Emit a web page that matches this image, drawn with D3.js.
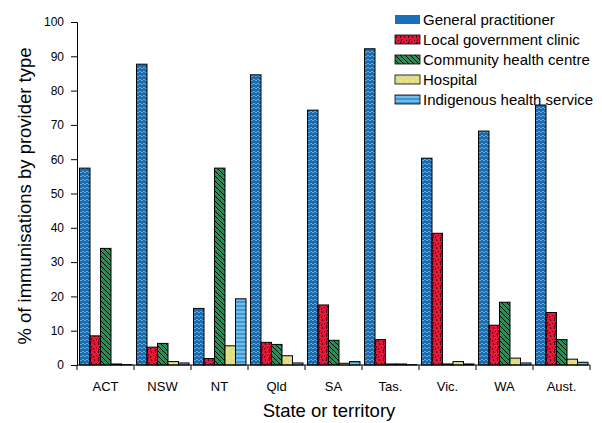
<!DOCTYPE html>
<html>
<head>
<meta charset="utf-8">
<script src="https://cdn.jsdelivr.net/npm/d3@7"></script>
<style>
  body { margin: 0; background: #fff; }
  text { font-family: "Liberation Sans", Arial, sans-serif; fill: #000; }
</style>
</head>
<body>
<div class="chart"></div>
<script>
// Immunisations by provider type, per state
var states = ["ACT", "NSW", "NT", "Qld", "SA", "Tas.", "Vic.", "WA", "Aust."];
var providers = ["General practitioner", "Local government clinic", "Community health centre", "Hospital", "Indigenous health service"];

var gp         = [57.4, 87.7, 16.5, 84.6, 74.3, 92.2, 60.3, 68.2, 75.8];
var localGov   = [8.5, 5.2, 1.9, 6.6, 17.5, 7.4, 38.4, 11.6, 15.3];
var community  = [34.0, 6.3, 57.4, 6.0, 7.2, 0.3, 0.3, 18.3, 7.4];
var hospital   = [0.3, 1.0, 5.6, 2.7, 0.5, 0.3, 1.0, 2.0, 1.7];
var indigenous = [0.1, 0.6, 19.3, 0.6, 1.0, 0.1, 0.3, 0.6, 0.8];

var yTicks = [0, 10, 20, 30, 40, 50, 60, 70, 80, 90, 100];

var series = [gp, localGov, community, hospital, indigenous];
var fills = ["url(#pGP)", "url(#pLG)", "url(#pCH)", "url(#pHO)", "url(#pIN)"];
var legendFills = ["#1a6fba", "url(#pLG)", "url(#pCH)", "url(#pHO)", "url(#pIN)"];

var svgWidth = 602;
var svgHeight = 423;
var margin = { top: 22, right: 12, bottom: 58, left: 77 };
var width = svgWidth - margin.left - margin.right;
var height = svgHeight - margin.top - margin.bottom;

var svg = d3.select(".chart")
  .append("svg")
  .attr("width", svgWidth)
  .attr("height", svgHeight);

// fill patterns
var defs = svg.append("defs");

var p = defs.append("pattern").attr("id", "pGP").attr("patternUnits", "userSpaceOnUse")
  .attr("width", 4).attr("height", 4);
p.append("rect").attr("width", 4).attr("height", 4).attr("fill", "#1a6aae");
p.append("path").attr("d", "M0,3 L2,1 L4,3").attr("fill", "none")
  .attr("stroke", "#7db8e6").attr("stroke-width", 0.8);

p = defs.append("pattern").attr("id", "pLG").attr("patternUnits", "userSpaceOnUse")
  .attr("width", 8).attr("height", 8);
p.append("rect").attr("width", 8).attr("height", 8).attr("fill", "#e8183c");
p.append("path").attr("d", "M1,1 L2,3 M5,0 L6,2 L5,3 M3,5 L4,6 M7,4 L6,6 M1,6 L0,8 M5,7 L7,8")
  .attr("fill", "none").attr("stroke", "#000").attr("stroke-width", 0.8);

p = defs.append("pattern").attr("id", "pCH").attr("patternUnits", "userSpaceOnUse")
  .attr("width", 5).attr("height", 5);
p.append("rect").attr("width", 5).attr("height", 5).attr("fill", "#2b8c55");
p.append("path").attr("d", "M0,0 L5,5 M-1,4 L1,6 M4,-1 L6,1")
  .attr("stroke", "#000").attr("stroke-width", 1);

p = defs.append("pattern").attr("id", "pHO").attr("patternUnits", "userSpaceOnUse")
  .attr("width", 6).attr("height", 6);
p.append("rect").attr("width", 6).attr("height", 6).attr("fill", "#f6e65c");
p.append("circle").attr("cx", 3).attr("cy", 3).attr("r", 2.2).attr("fill", "none")
  .attr("stroke", "#b9cce0").attr("stroke-width", 0.9);

p = defs.append("pattern").attr("id", "pIN").attr("patternUnits", "userSpaceOnUse")
  .attr("width", 4).attr("height", 4);
p.append("rect").attr("width", 4).attr("height", 4).attr("fill", "#3a9ad6");
p.append("line").attr("x1", 0).attr("x2", 4).attr("y1", 2).attr("y2", 2)
  .attr("stroke", "#d8ecf8").attr("stroke-width", 0.8);

var chartGroup = svg.append("g")
  .attr("transform", `translate(${margin.left}, ${margin.top})`);

var x0 = d3.scaleBand().domain(states).range([0, width]).padding(0);
var x1 = d3.scaleBand().domain(d3.range(providers.length))
  .range([2.5, x0.bandwidth() - 2]).padding(0);
var y = d3.scaleLinear().domain([0, 100]).range([height, 0]);

// bars
var groups = chartGroup.selectAll(".state")
  .data(states)
  .enter()
  .append("g")
  .attr("transform", d => `translate(${x0(d)}, 0)`);

groups.selectAll("rect")
  .data((d, i) => series.map((s, k) => ({ k: k, v: s[i] })))
  .enter()
  .append("rect")
  .attr("x", d => x1(d.k))
  .attr("y", d => y(d.v))
  .attr("width", x1.bandwidth())
  .attr("height", d => height - y(d.v))
  .attr("fill", d => fills[d.k])
  .attr("stroke", "#000")
  .attr("stroke-width", 1);

// y axis
var leftAxis = d3.axisLeft(y).tickValues(yTicks).tickSize(6).tickPadding(7);
var yAxis = chartGroup.append("g").call(leftAxis);
yAxis.selectAll("text").style("font-size", "12px");

// x axis with ticks at category boundaries
var xAxis = chartGroup.append("g").attr("transform", `translate(0, ${height})`);
xAxis.append("line").attr("x1", 0).attr("x2", width).attr("y1", 0).attr("y2", 0)
  .attr("stroke", "#000");
xAxis.selectAll(".tk")
  .data(states.concat(["end"]))
  .enter()
  .append("line")
  .attr("x1", (d, i) => i * x0.step())
  .attr("x2", (d, i) => i * x0.step())
  .attr("y1", 0).attr("y2", 5)
  .attr("stroke", "#000");
xAxis.selectAll(".lbl")
  .data(states)
  .enter()
  .append("text")
  .attr("x", d => x0(d) + x0.bandwidth() / 2)
  .attr("y", 26)
  .attr("text-anchor", "middle")
  .style("font-size", "13px")
  .text(d => d);

// axis titles
svg.append("text")
  .attr("transform", "rotate(-90)")
  .attr("x", -196)
  .attr("y", 31)
  .attr("text-anchor", "middle")
  .style("font-size", "18.5px")
  .text("% of immunisations by provider type");

svg.append("text")
  .attr("x", 329)
  .attr("y", 417)
  .attr("text-anchor", "middle")
  .style("font-size", "18.5px")
  .text("State or territory");

// legend
var legend = svg.append("g").attr("transform", "translate(395, 15)");
var rows = legend.selectAll("g")
  .data(providers)
  .enter()
  .append("g")
  .attr("transform", (d, i) => `translate(0, ${i * 20})`);
rows.append("rect")
  .attr("width", 25).attr("height", 9)
  .attr("fill", (d, i) => legendFills[i])
  .attr("stroke", (d, i) => i === 0 ? "none" : "#000")
  .attr("stroke-width", 0.8);
rows.append("text")
  .attr("x", 28)
  .attr("y", 9.5)
  .style("font-size", "15px")
  .text(d => d);
</script>
</body>
</html>
